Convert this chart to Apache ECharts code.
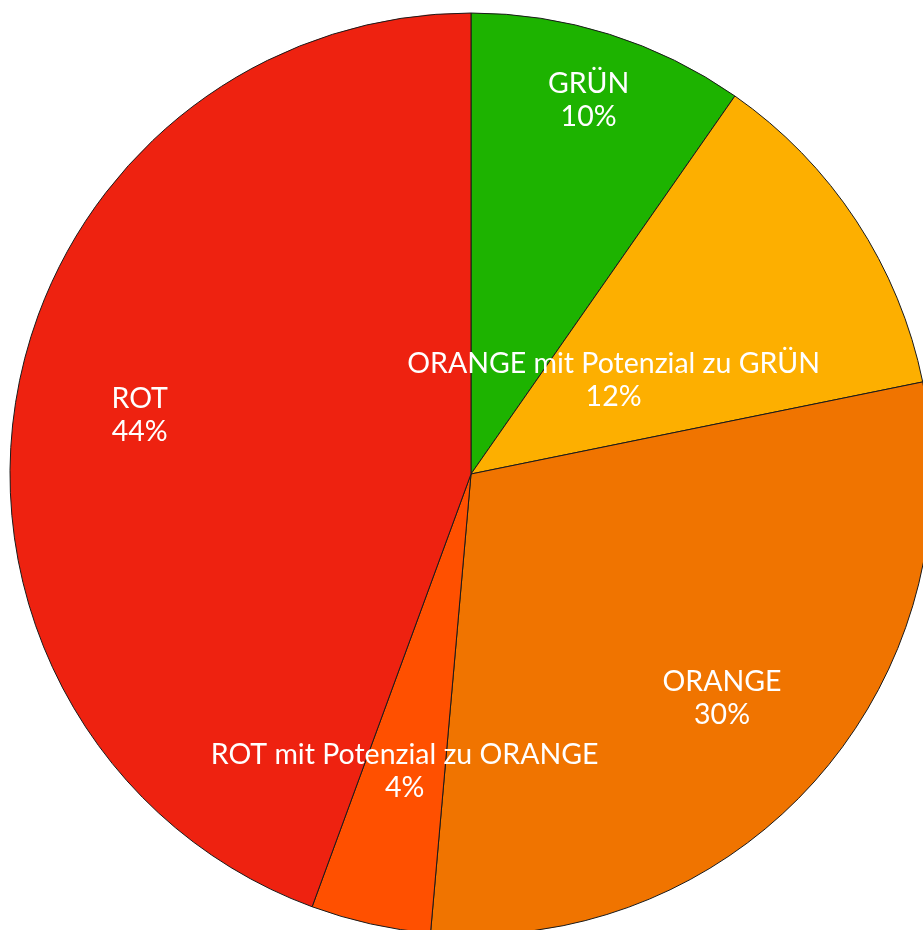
<!DOCTYPE html>
<html><head><meta charset="utf-8">
<script src="https://cdn.jsdelivr.net/npm/echarts@6/dist/echarts.min.js"></script>
<style>html,body{margin:0;padding:0;background:#fff}#c{width:923px;height:930px}</style>
</head><body><div id="c"></div>
<script>
const categories = ['GRÜN', 'ORANGE mit Potenzial zu GRÜN', 'ORANGE', 'ROT mit Potenzial zu ORANGE', 'ROT'];
const values = [9.7, 12.1, 29.6, 4.2, 44.4];
const percentLabels = ['10%', '12%', '30%', '4%', '44%'];
const colors = ['#1DB300', '#FDAF00', '#F07400', '#FF5000', '#EE2210'];
// label distance from centre as fraction of radius (layout only)
const labelDist = [0.85, 0.37, 0.73, 0.66, 0.73];

const chart = echarts.init(document.getElementById('c'), null, {renderer: 'canvas'});
const R = 461;
chart.setOption({
  animation: false,
  series: [{
    type: 'pie',
    center: [471, 474],
    radius: [0, R],
    startAngle: 90,
    clockwise: true,
    data: categories.map((n, i) => ({name: n, value: values[i], itemStyle: {color: colors[i]}})),
    itemStyle: {borderColor: '#1a1a1a', borderWidth: 1},
    label: {
      show: true,
      position: 'inside',
      color: '#fff',
      fontFamily: 'Lato',
      fontSize: 28.5,
      lineHeight: 33,
      align: 'center',
      formatter: p => p.name + '\n' + percentLabels[p.dataIndex]
    },
    labelLine: {show: false},
    labelLayout: function (p) {
      const data = chart.getModel().getSeriesByIndex(0).getData();
      const l = data.getItemLayout(p.dataIndex);
      const mid = (l.startAngle + l.endAngle) / 2;
      const d = labelDist[p.dataIndex] * l.r;
      return {x: l.cx + d * Math.cos(mid), y: l.cy + d * Math.sin(mid), align: 'center', verticalAlign: 'middle'};
    },
    emphasis: {disabled: true}
  }]
});
</script></body></html>
